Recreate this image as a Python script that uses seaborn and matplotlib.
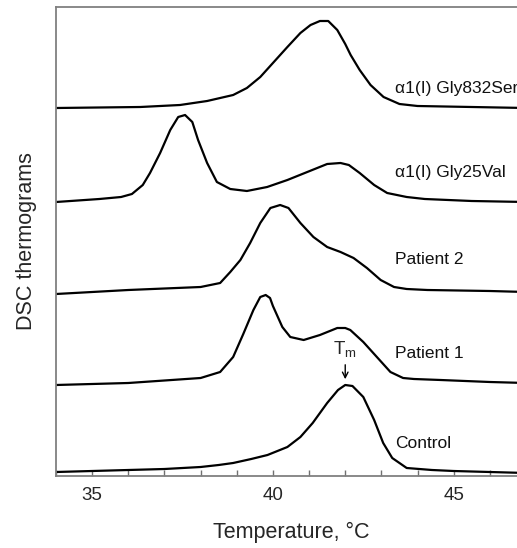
import matplotlib
matplotlib.use("Agg")
import matplotlib.pyplot as plt
import seaborn as sns
import pandas as pd

# ---- data (temperature in °C, signal in arbitrary offset units) ----
control_t = [34.0, 35.0, 36.0, 37.0, 38.0, 38.5, 38.9, 39.4, 39.85, 40.4, 40.76, 41.1, 41.5,
             41.8, 42.0, 42.2, 42.5, 42.8, 43.05, 43.3, 43.7, 44.4, 45.0, 46.0, 47.0]
control_y = [4, 5, 6, 7, 9, 11, 13, 17, 21, 29, 39, 53, 73,
             86, 91, 90, 79, 56, 33, 18, 8, 6, 5, 4, 3]

patient1_t = [34.0, 36.0, 38.0, 38.54, 38.9, 39.18, 39.46, 39.65, 39.8, 39.92, 40.0, 40.26, 40.48,
              40.85, 41.3, 41.78, 42.0, 42.14, 42.5, 42.9, 43.25, 43.6, 43.9, 44.64, 46.0, 47.0]
patient1_y = [91, 93, 98, 104, 119, 142, 166, 179, 181, 178, 170, 149, 139,
              136, 141, 148, 148, 146, 134, 118, 104, 98, 97, 96, 94, 93]

patient2_t = [34.0, 36.0, 38.0, 38.54, 38.82, 39.1, 39.37, 39.65, 39.93, 40.2, 40.43, 40.76, 41.12,
              41.5, 41.87, 42.23, 42.6, 42.98, 43.35, 43.7, 44.27, 46.0, 47.0]
patient2_y = [182, 186, 189, 193, 204, 216, 233, 253, 268, 271, 268, 253, 239,
              229, 224, 218, 208, 196, 189, 187, 186, 185, 184]

gly25_t = [34.0, 35.2, 35.8, 36.1, 36.4, 36.6, 36.88, 37.16, 37.38, 37.57, 37.77, 37.93, 38.18,
           38.45, 38.82, 39.28, 39.84, 40.4, 40.95, 41.5, 41.87, 42.1, 42.4, 42.8, 43.16, 43.7,
           44.2, 45.5, 47.0]
gly25_y = [274, 277, 279, 282, 291, 303, 323, 346, 359, 361, 354, 336, 313,
           294, 287, 285, 289, 296, 304, 312, 313, 311, 303, 291, 283, 279,
           277, 275, 274]

gly832_t = [34.0, 36.33, 37.43, 38.18, 38.9, 39.28, 39.65, 40.0, 40.4, 40.76, 41.04, 41.3, 41.53,
            41.78, 42.0, 42.15, 42.4, 42.7, 43.06, 43.5, 44.0, 45.5, 47.0]
gly832_y = [368, 369, 371, 375, 381, 388, 399, 413, 429, 443, 451, 455, 455,
            446, 432, 421, 406, 391, 379, 372, 370, 369, 368]

series_names = ["Control", "Patient 1", "Patient 2", "\u03b11(I) Gly25Val", "\u03b11(I) Gly832Ser"]
label_y = [32, 123, 216, 304, 388]
label_x = 43.39

xtick_major = [35, 40, 45]
tm_x = 42.0

# ---- build a long table ----
frames = []
for name, t, y in zip(series_names,
                      [control_t, patient1_t, patient2_t, gly25_t, gly832_t],
                      [control_y, patient1_y, patient2_y, gly25_y, gly832_y]):
    frames.append(pd.DataFrame({"T": t, "S": y, "series": name}))
df = pd.concat(frames, ignore_index=True)

sns.set_style("ticks")
plt.rcParams["font.family"] = ["Liberation Sans", "DejaVu Sans"]

fig = plt.figure(figsize=(5.17, 5.48), dpi=100)
ax = fig.add_axes([56 / 517, 72 / 548, (526 - 56) / 517, (476 - 7) / 548])

sns.lineplot(data=df, x="T", y="S", units="series", estimator=None,
             color="black", linewidth=1.6, ax=ax, sort=True)
for ln in ax.lines:
    ln.set_solid_joinstyle("round")
    ln.set_solid_capstyle("round")

ax.set_xlim(34, 47)
ax.set_ylim(0, 469)
ax.set_yticks([])
ax.set_xticks(xtick_major)
ax.set_xticks(list(range(34, 48)), minor=True)
ax.tick_params(axis="x", which="both", direction="in", length=4, width=1,
               color="#707070", labelsize=13.5, pad=8, top=False)
for s in ax.spines.values():
    s.set_color("#808080")
    s.set_linewidth(1.3)

ax.set_xlabel("Temperature, \u00b0C", fontsize=15.5, labelpad=13)
ax.set_ylabel("DSC thermograms", fontsize=15.5, labelpad=14)

for name, yv in zip(series_names, label_y):
    ax.text(label_x, yv, name, fontsize=12.5, va="center", ha="left", color="#111111")

ax.annotate("", xy=(tm_x, 94), xytext=(tm_x, 114),
            arrowprops=dict(arrowstyle="->", color="black", lw=1.0))
ax.text(tm_x, 127, r"$\mathregular{T_m}$", fontsize=13.5, ha="center", va="center")

fig.savefig("out.png", dpi=100)
